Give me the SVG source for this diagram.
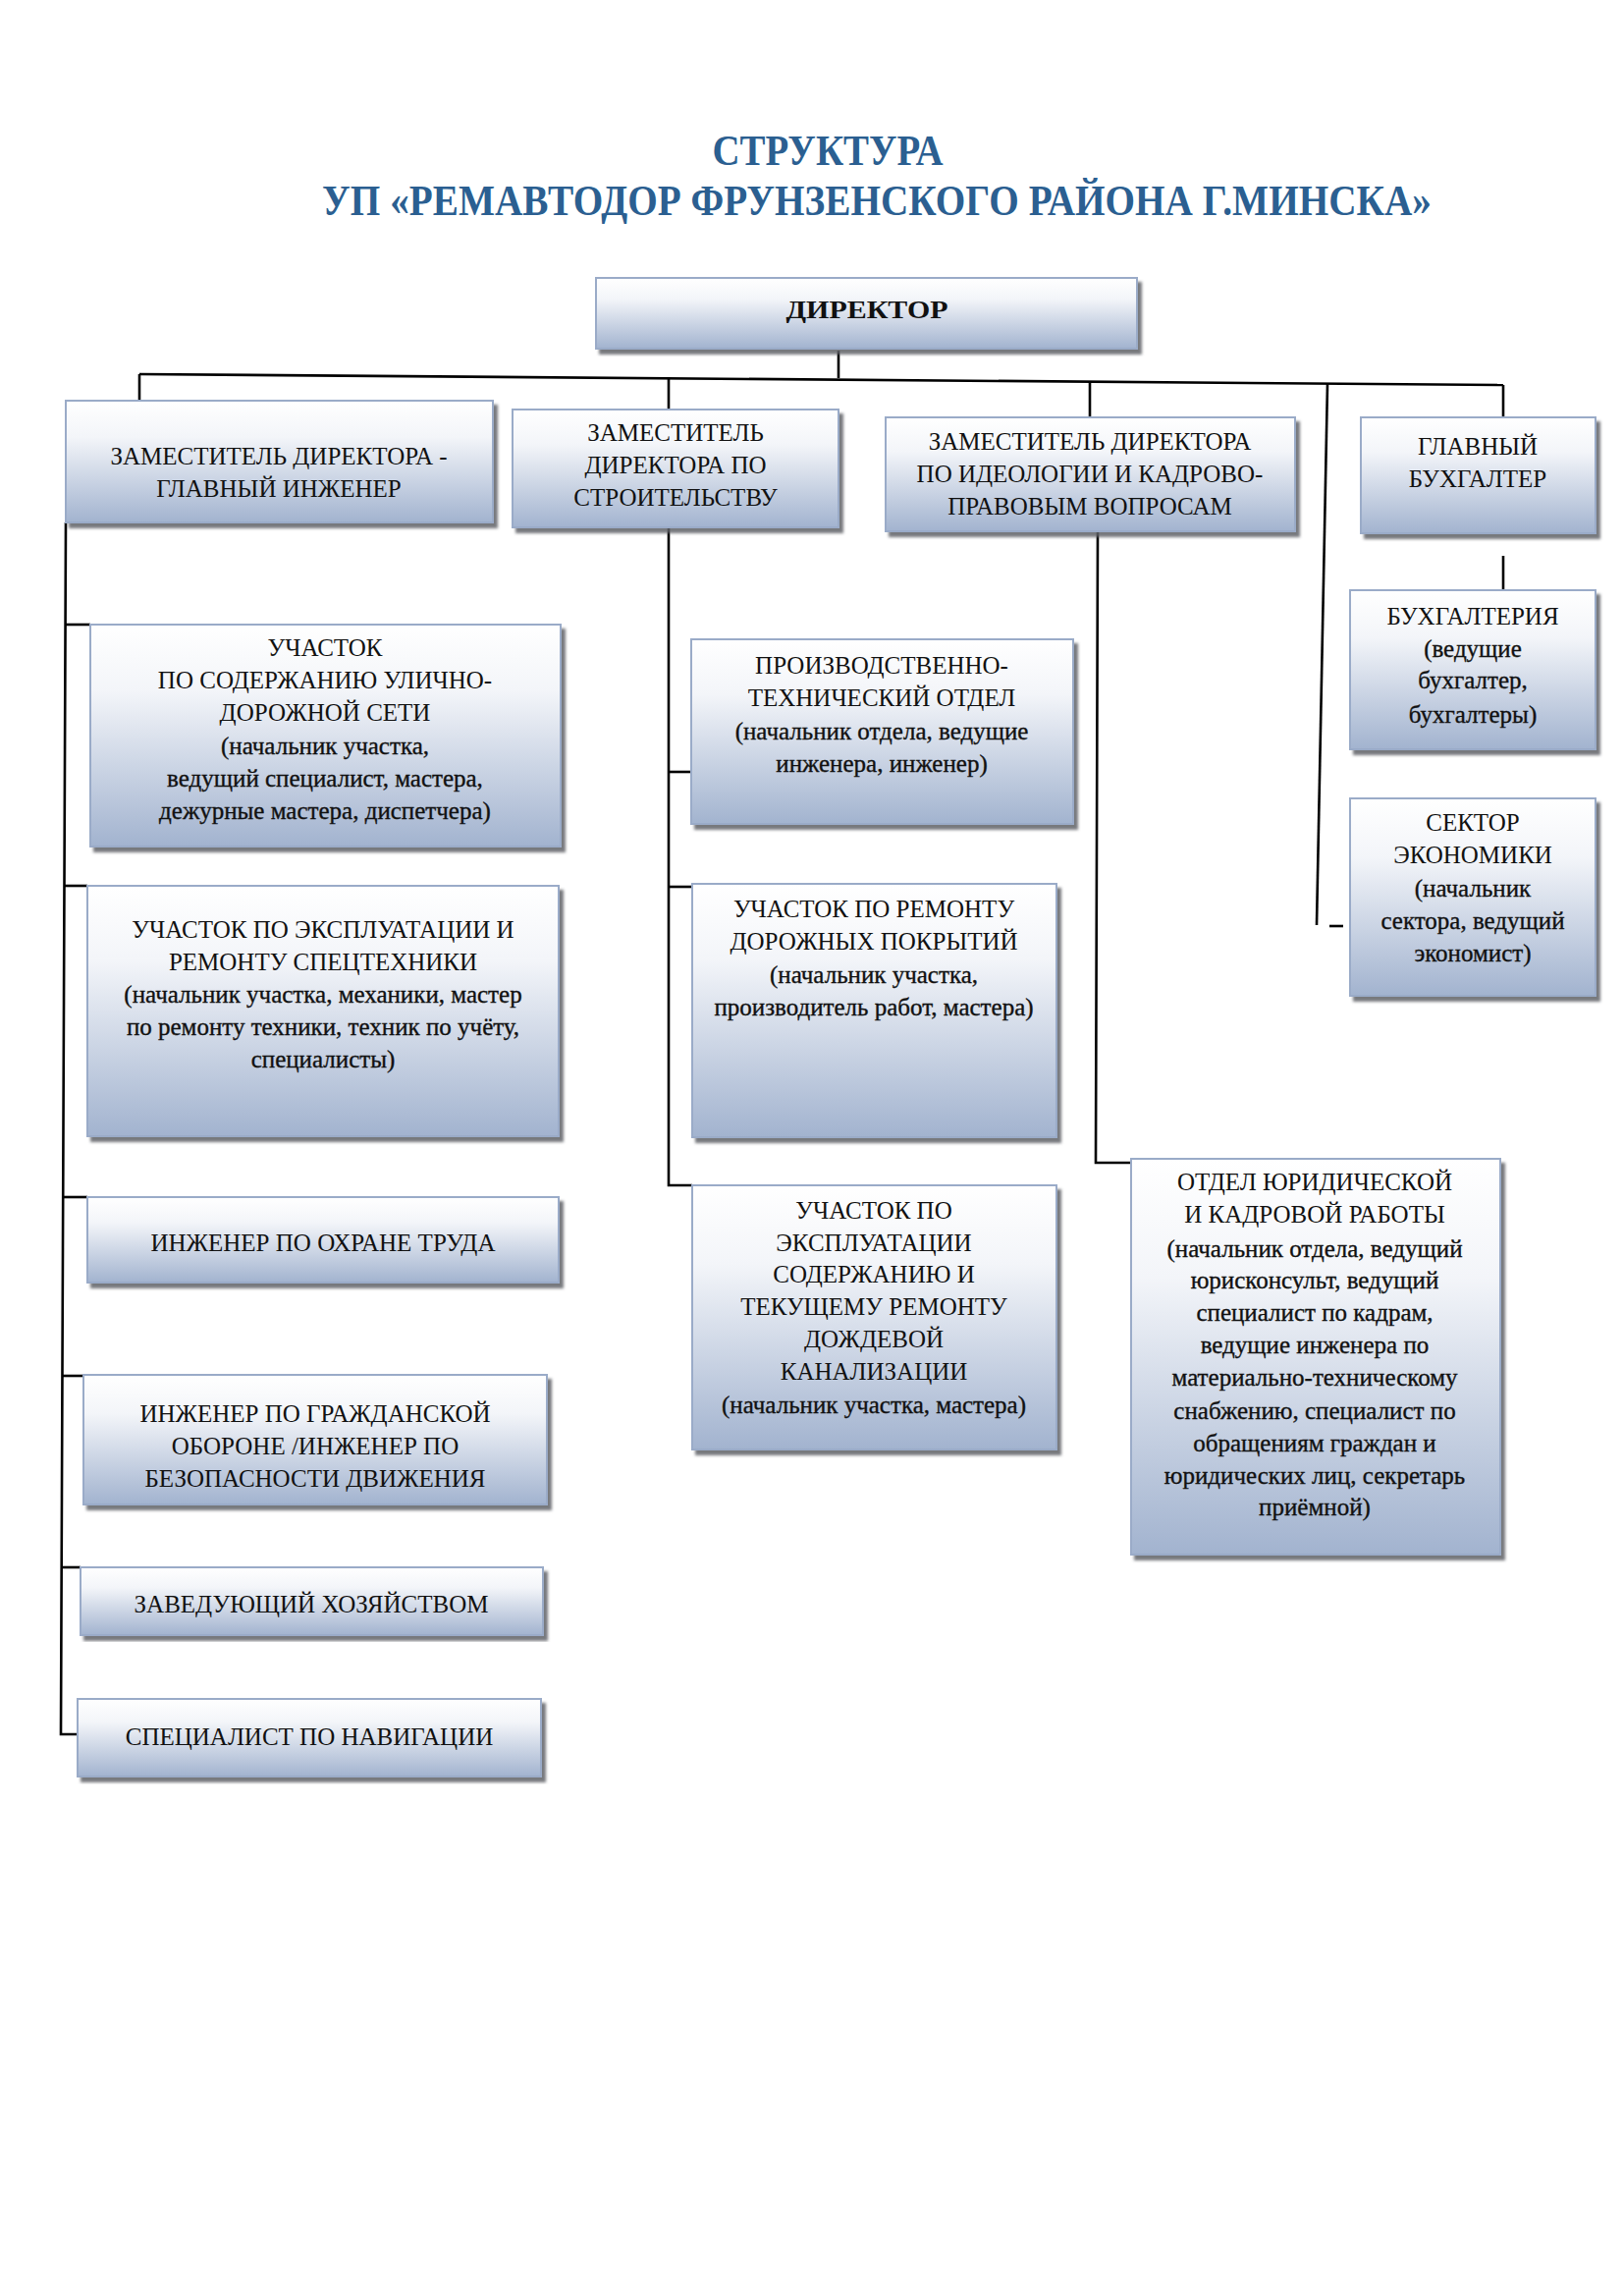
<svg xmlns="http://www.w3.org/2000/svg" width="1653" height="2338" viewBox="0 0 1653 2338">
<style>
  .bx { fill: url(#g); stroke: #9aabc8; stroke-width: 2; filter: url(#sh); }
  .t { font-family: "Liberation Serif", "Times New Roman", serif; font-size: 25px; fill: #111; text-anchor: middle; }
  .s { stroke: #111; stroke-width: 0.35px; }
  .ttl { font-family: "Liberation Serif", "Times New Roman", serif; font-size: 44px; font-weight: bold; fill: #2b5f91; text-anchor: middle; }
  .ln { stroke: #000; stroke-width: 2.6; fill: none; }
</style>
<defs>
  <linearGradient id="g" x1="0" y1="0" x2="0" y2="1">
    <stop offset="0" stop-color="#ffffff"/>
    <stop offset="0.3" stop-color="#f3f5f9"/>
    <stop offset="1" stop-color="#a2b3cf"/>
  </linearGradient>
  <filter id="sh" x="-5%" y="-5%" width="112%" height="115%">
    <feDropShadow dx="4" dy="5" stdDeviation="1.5" flood-color="#5f6166" flood-opacity="0.85"/>
  </filter>
</defs>
<rect width="1653" height="2338" fill="#ffffff"/>

<g id="title">
  <text class="ttl" x="843" y="168" textLength="235" lengthAdjust="spacingAndGlyphs">СТРУКТУРА</text>
  <text class="ttl" x="893" y="219" textLength="1130" lengthAdjust="spacingAndGlyphs">УП «РЕМАВТОДОР ФРУНЗЕНСКОГО РАЙОНА Г.МИНСКА»</text>
</g>

<g id="connectors">
  <line class="ln" x1="854" y1="357" x2="854" y2="385"/>
  <line class="ln" x1="142" y1="381" x2="1531" y2="392"/>
  <line class="ln" x1="142" y1="381" x2="142" y2="408"/>
  <line class="ln" x1="681" y1="385" x2="681" y2="417"/>
  <line class="ln" x1="1110" y1="388" x2="1110" y2="425"/>
  <line class="ln" x1="1531" y1="392" x2="1531" y2="425"/>
  <line class="ln" x1="1352" y1="391" x2="1341" y2="942"/>
  <line class="ln" x1="1354" y1="943" x2="1368" y2="943"/>
  <line class="ln" x1="1531" y1="566" x2="1531" y2="600"/>
  <polyline class="ln" points="67,532 62,1766 79,1766"/>
  <line class="ln" x1="66" y1="636" x2="92" y2="636"/>
  <line class="ln" x1="66" y1="902" x2="89" y2="902"/>
  <line class="ln" x1="64" y1="1219" x2="89" y2="1219"/>
  <line class="ln" x1="63" y1="1401" x2="85" y2="1401"/>
  <line class="ln" x1="63" y1="1596" x2="82" y2="1596"/>
  <polyline class="ln" points="681,537 681,1207 705,1207"/>
  <line class="ln" x1="681" y1="786" x2="704" y2="786"/>
  <line class="ln" x1="681" y1="903" x2="705" y2="903"/>
  <polyline class="ln" points="1118,541 1116,1184 1152,1184"/>
</g>

<g id="director">
  <rect class="bx" x="607" y="283" width="551" height="72"/>
  <text class="t" x="883" y="324" font-weight="bold" font-size="32" textLength="165" lengthAdjust="spacingAndGlyphs">ДИРЕКТОР</text>
</g>

<g id="deputy-chief-engineer">
  <rect class="bx" x="67" y="408" width="435" height="124"/>
  <text class="t"><tspan x="284" y="473">ЗАМЕСТИТЕЛЬ ДИРЕКТОРА -</tspan><tspan x="284" y="506">ГЛАВНЫЙ ИНЖЕНЕР</tspan></text>
</g>

<g id="deputy-construction">
  <rect class="bx" x="522" y="417" width="332" height="120"/>
  <text class="t"><tspan x="688" y="449">ЗАМЕСТИТЕЛЬ</tspan><tspan x="688" y="482">ДИРЕКТОРА ПО</tspan><tspan x="688" y="515">СТРОИТЕЛЬСТВУ</tspan></text>
</g>

<g id="deputy-ideology">
  <rect class="bx" x="902" y="425" width="417" height="116"/>
  <text class="t"><tspan x="1110" y="458">ЗАМЕСТИТЕЛЬ ДИРЕКТОРА</tspan><tspan x="1110" y="491">ПО ИДЕОЛОГИИ И КАДРОВО-</tspan><tspan x="1110" y="524">ПРАВОВЫМ ВОПРОСАМ</tspan></text>
</g>

<g id="chief-accountant">
  <rect class="bx" x="1386" y="425" width="239" height="118"/>
  <text class="t"><tspan x="1505" y="463">ГЛАВНЫЙ</tspan><tspan x="1505" y="496">БУХГАЛТЕР</tspan></text>
</g>

<g id="street-road-maintenance">
  <rect class="bx" x="92" y="636" width="479" height="226"/>
  <text class="t"><tspan x="331" y="668">УЧАСТОК</tspan><tspan x="331" y="701">ПО СОДЕРЖАНИЮ УЛИЧНО-</tspan><tspan x="331" y="734">ДОРОЖНОЙ СЕТИ</tspan></text>
  <text class="t s"><tspan x="331" y="768">(начальник участка,</tspan><tspan x="331" y="801">ведущий специалист, мастера,</tspan><tspan x="331" y="834">дежурные мастера, диспетчера)</tspan></text>
</g>

<g id="special-equipment">
  <rect class="bx" x="89" y="902" width="480" height="255"/>
  <text class="t"><tspan x="329" y="955">УЧАСТОК ПО ЭКСПЛУАТАЦИИ И</tspan><tspan x="329" y="988">РЕМОНТУ СПЕЦТЕХНИКИ</tspan></text>
  <text class="t s"><tspan x="329" y="1021">(начальник участка, механики, мастер</tspan><tspan x="329" y="1054">по ремонту техники, техник по учёту,</tspan><tspan x="329" y="1087">специалисты)</tspan></text>
</g>

<g id="labour-safety">
  <rect class="bx" x="89" y="1219" width="480" height="87"/>
  <text class="t" x="329" y="1274">ИНЖЕНЕР ПО ОХРАНЕ ТРУДА</text>
</g>

<g id="civil-defence">
  <rect class="bx" x="85" y="1400" width="472" height="132"/>
  <text class="t"><tspan x="321" y="1448">ИНЖЕНЕР ПО ГРАЖДАНСКОЙ</tspan><tspan x="321" y="1481">ОБОРОНЕ /ИНЖЕНЕР ПО</tspan><tspan x="321" y="1514">БЕЗОПАСНОСТИ ДВИЖЕНИЯ</tspan></text>
</g>

<g id="housekeeping">
  <rect class="bx" x="82" y="1596" width="471" height="69"/>
  <text class="t" x="317" y="1642">ЗАВЕДУЮЩИЙ ХОЗЯЙСТВОМ</text>
</g>

<g id="navigation">
  <rect class="bx" x="79" y="1730" width="472" height="79"/>
  <text class="t" x="315" y="1777">СПЕЦИАЛИСТ ПО НАВИГАЦИИ</text>
</g>

<g id="production-technical">
  <rect class="bx" x="704" y="651" width="389" height="188"/>
  <text class="t"><tspan x="898" y="686">ПРОИЗВОДСТВЕННО-</tspan><tspan x="898" y="719">ТЕХНИЧЕСКИЙ ОТДЕЛ</tspan></text>
  <text class="t s"><tspan x="898" y="753">(начальник отдела, ведущие</tspan><tspan x="898" y="786">инженера, инженер)</tspan></text>
</g>

<g id="road-surface-repair">
  <rect class="bx" x="705" y="900" width="371" height="258"/>
  <text class="t"><tspan x="890" y="934">УЧАСТОК ПО РЕМОНТУ</tspan><tspan x="890" y="967">ДОРОЖНЫХ ПОКРЫТИЙ</tspan></text>
  <text class="t s"><tspan x="890" y="1001">(начальник участка,</tspan><tspan x="890" y="1034">производитель работ, мастера)</tspan></text>
</g>

<g id="storm-sewer">
  <rect class="bx" x="705" y="1207" width="371" height="269"/>
  <text class="t"><tspan x="890" y="1241">УЧАСТОК ПО</tspan><tspan x="890" y="1274">ЭКСПЛУАТАЦИИ</tspan><tspan x="890" y="1306">СОДЕРЖАНИЮ И</tspan><tspan x="890" y="1339">ТЕКУЩЕМУ РЕМОНТУ</tspan><tspan x="890" y="1372">ДОЖДЕВОЙ</tspan><tspan x="890" y="1405">КАНАЛИЗАЦИИ</tspan></text>
  <text class="t s" x="890" y="1439">(начальник участка, мастера)</text>
</g>

<g id="legal-hr">
  <rect class="bx" x="1152" y="1180" width="376" height="403"/>
  <text class="t"><tspan x="1339" y="1212">ОТДЕЛ ЮРИДИЧЕСКОЙ</tspan><tspan x="1339" y="1245">И КАДРОВОЙ РАБОТЫ</tspan></text>
  <text class="t s" font-size="24"><tspan x="1339" y="1280">(начальник отдела, ведущий</tspan><tspan x="1339" y="1312">юрисконсульт, ведущий</tspan><tspan x="1339" y="1345">специалист по кадрам,</tspan><tspan x="1339" y="1378">ведущие инженера по</tspan><tspan x="1339" y="1411">материально-техническому</tspan><tspan x="1339" y="1445">снабжению, специалист по</tspan><tspan x="1339" y="1478">обращениям граждан и</tspan><tspan x="1339" y="1511">юридических лиц, секретарь</tspan><tspan x="1339" y="1543">приёмной)</tspan></text>
</g>

<g id="accounting">
  <rect class="bx" x="1375" y="601" width="250" height="162"/>
  <text class="t" x="1500" y="636">БУХГАЛТЕРИЯ</text>
  <text class="t s"><tspan x="1500" y="669">(ведущие</tspan><tspan x="1500" y="701">бухгалтер,</tspan><tspan x="1500" y="736">бухгалтеры)</tspan></text>
</g>

<g id="economics-sector">
  <rect class="bx" x="1375" y="813" width="250" height="201"/>
  <text class="t"><tspan x="1500" y="846">СЕКТОР</tspan><tspan x="1500" y="879">ЭКОНОМИКИ</tspan></text>
  <text class="t s"><tspan x="1500" y="913">(начальник</tspan><tspan x="1500" y="946">сектора, ведущий</tspan><tspan x="1500" y="979">экономист)</tspan></text>
</g>
</svg>
